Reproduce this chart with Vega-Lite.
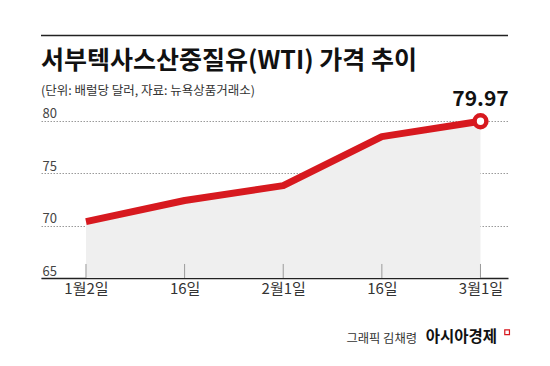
{
  "$schema": "https://vega.github.io/schema/vega-lite/v6.json",
  "width": 467,
  "height": 178,
  "autosize": {"type": "none"},
  "padding": {"left": 41, "top": 100, "right": 42, "bottom": 88},
  "background": "white",
  "config": {
    "font": "Noto Sans CJK KR",
    "view": {"stroke": null}
  },
  "title": {
    "text": "서부텍사스산중질유(WTI) 가격 추이",
    "subtitle": "(단위: 배럴당 달러, 자료: 뉴욕상품거래소)",
    "anchor": "start",
    "frame": "group",
    "fontSize": 25,
    "fontWeight": "bold",
    "color": "#111111",
    "subtitleFontSize": 12.5,
    "subtitleColor": "#333333",
    "subtitlePadding": 11,
    "offset": 5,
    "dy": 68
  },
  "data": {
    "values": [
      {"i": 0, "date": "1월2일", "price": 70.38},
      {"i": 1, "date": "1월16일", "price": 72.4},
      {"i": 2, "date": "2월1일", "price": 73.82},
      {"i": 3, "date": "2월16일", "price": 78.5},
      {"i": 4, "date": "3월1일", "price": 79.97}
    ]
  },
  "layer": [
    {
      "mark": {"type": "area", "color": "#efefef"},
      "encoding": {
        "x": {
          "field": "i",
          "type": "quantitative",
          "scale": {"domain": [-0.456, 4.279], "nice": false, "zero": false},
          "axis": {
            "title": null,
            "values": [0, 1, 2, 3, 4],
            "labelExpr": "['1월2일','16일','2월1일','16일','3월1일'][datum.value]",
            "grid": false,
            "ticks": false,
            "domainColor": "#222222",
            "domainWidth": 1.5,
            "labelFontSize": 15,
            "labelColor": "#333333",
            "labelPadding": 3,
            "labelFlush": false
          }
        },
        "y": {
          "field": "price",
          "type": "quantitative",
          "scale": {"domain": [65, 82], "nice": false, "zero": false},
          "axis": {
            "title": null,
            "values": [65, 70, 75, 80],
            "domain": false,
            "ticks": false,
            "grid": true,
            "gridColor": "#9a9a9a",
            "gridDash": [1.5, 1.5],
            "gridWidth": 1,
            "labelAlign": "left",
            "labelBaseline": "alphabetic",
            "labelPadding": -1,
            "labelOffset": -3,
            "labelFontSize": 13,
            "labelColor": "#444444"
          }
        },
        "y2": {"datum": 65}
      }
    },
    {
      "mark": {"type": "rule", "color": "#9a9a9a", "strokeWidth": 1},
      "encoding": {
        "x": {"field": "i", "type": "quantitative"},
        "y": {"datum": 65},
        "y2": {"datum": 66.34}
      }
    },
    {
      "mark": {"type": "line", "color": "#d7191f", "strokeWidth": 7, "strokeJoin": "round", "strokeCap": "butt"},
      "encoding": {
        "x": {"field": "i", "type": "quantitative"},
        "y": {"field": "price", "type": "quantitative"}
      }
    },
    {
      "transform": [{"filter": "datum.i == 4"}],
      "mark": {"type": "point", "shape": "circle", "size": 140, "filled": true, "fill": "white", "stroke": "#d7191f", "strokeWidth": 4.5, "opacity": 1},
      "encoding": {
        "x": {"field": "i", "type": "quantitative"},
        "y": {"field": "price", "type": "quantitative"}
      }
    },
    {
      "transform": [{"filter": "datum.i == 4"}],
      "mark": {"type": "text", "fontSize": 21, "fontWeight": "bold", "color": "#111111", "align": "center", "baseline": "middle", "dy": -21},
      "encoding": {
        "x": {"field": "i", "type": "quantitative"},
        "y": {"field": "price", "type": "quantitative"},
        "text": {"field": "price", "type": "quantitative", "format": ".2f"}
      }
    },
    {
      "data": {"values": [{"kind": "topline"}]},
      "mark": {"type": "rule", "color": "#222222", "strokeWidth": 1.5},
      "encoding": {
        "x": {"datum": -0.456},
        "x2": {"datum": 4.279},
        "y": {"datum": 88.16}
      }
    },
    {
      "data": {"values": [{"credit": "그래픽 김채령"}]},
      "mark": {"type": "text", "fontSize": 12.3, "color": "#333333", "align": "right", "baseline": "middle"},
      "encoding": {
        "x": {"datum": 3.357},
        "y": {"datum": 59.2},
        "text": {"field": "credit"}
      }
    },
    {
      "data": {"values": [{"brand": "아시아경제"}]},
      "mark": {"type": "text", "fontSize": 15.5, "fontWeight": "bold", "color": "#111111", "align": "right", "baseline": "middle"},
      "encoding": {
        "x": {"datum": 4.168},
        "y": {"datum": 59.34},
        "text": {"field": "brand"}
      }
    },
    {
      "data": {"values": [{"icon": "logo"}]},
      "mark": {"type": "point", "shape": "square", "size": 22, "filled": false, "stroke": "#d7191f", "strokeWidth": 1.2, "opacity": 1},
      "encoding": {
        "x": {"datum": 4.27},
        "y": {"datum": 59.82}
      }
    }
  ]
}
